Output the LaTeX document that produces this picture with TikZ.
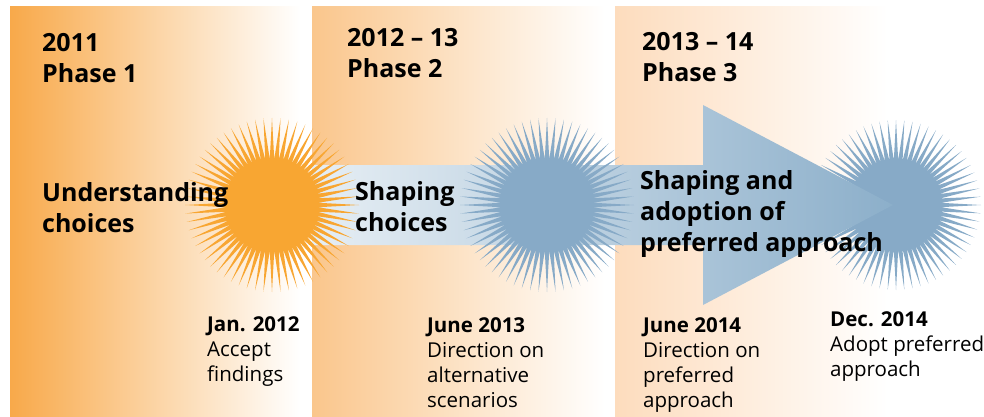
\documentclass[tikz,border=0pt]{standalone}
\usepackage{fontspec}
\setsansfont{Open Sans}
\usetikzlibrary{math}
\usetikzlibrary{shapes.geometric}
\definecolor{phaseA}{HTML}{F8A94A}
\definecolor{phaseB}{HTML}{FAC68C}
\definecolor{phaseC}{HTML}{FDDCBD}
\definecolor{sunOrange}{HTML}{F8A632}
\definecolor{sunBlue}{HTML}{87AAC7}
\definecolor{arrowL}{HTML}{E6EEF4}
\definecolor{arrowR}{HTML}{8CAFCA}
\tikzset{heading/.style={anchor=base west, inner sep=0pt, align=left, font=\sffamily\bfseries\fontsize{25}{31}\selectfont},
	milestone/.style={anchor=base west, inner sep=0pt, align=left, font=\sffamily\fontsize{20.5}{25}\selectfont},
	rays/.style={star, star points=64, star point ratio=1.9, minimum size=174pt, inner sep=0pt, outer sep=0pt, fill=#1},
	core/.style={circle, minimum size=92pt, inner sep=0pt, outer sep=0pt, fill=#1}}

\begin{document}
\begin{tikzpicture}[x=1pt,y=-1pt]
	\tikzmath{\pt=7; \pbt=417;
	\pa=10; \pb=312; \pc=615; \pend=888;
	\sy=205; \sax=272; \sbx=547; \scx=896;
	\ay=165; \by=245; \hx=703; \hat=105; \hab=305; \hatip=893;
	}
	\useasboundingbox (0,0) rectangle (984,417);
	\shade[left color=phaseA, right color=white] (\pa,\pt) rectangle (300,\pbt);
	\shade[left color=phaseB, right color=white] (\pb,\pt) rectangle (605,\pbt);
	\shade[left color=phaseC, right color=white] (\pc,\pt) rectangle (\pend,\pbt);
	\node[rays=sunBlue, minimum size=170pt] (sun3) at (\scx,\sy) {};
	\node[core=sunBlue] (core3) at (\scx,\sy) {};
	\shade[left color=arrowL, right color=arrowR] (\pb,\ay) -- (\hx,\ay) -- (\hx,\hat) -- (\hatip,\sy) -- (\hx,\hab) -- (\hx,\by) -- (\pb,\by) -- cycle;
	\node[rays=sunOrange] (sun1) at (\sax,\sy) {};
	\node[core=sunOrange] (core1) at (\sax,\sy) {};
	\node[rays=sunBlue] (sun2) at (\sbx,\sy) {};
	\node[core=sunBlue] (core2) at (\sbx,\sy) {};
	% base of a node = baseline of its last line
	\node[heading] (year1) at (42,83) {2011\\Phase 1};
	\node[heading] (year2) at (347,78) {2012 – 13\\Phase 2};
	\node[heading] (year3) at (642,82) {2013 – 14\\Phase 3};
	\node[heading] (stage1) at (42,232) {Understanding\\choices};
	\node[heading] (stage2) at (355,231) {Shaping\\choices};
	\node[heading] (stage3) at (640,251) {Shaping and\\adoption of\\preferred approach};
	\node[milestone] (mile1) at (207,381) {\textbf{Jan. 2012}\\Accept\\findings};
	\node[milestone] (mile2) at (427,407) {\textbf{June 2013}\\Direction on\\alternative\\scenarios};
	\node[milestone] (mile3) at (643,407) {\textbf{June 2014}\\Direction on\\preferred\\approach};
	\node[milestone] (mile4) at (830,376) {\textbf{Dec. 2014}\\Adopt preferred\\approach};
\end{tikzpicture}
\end{document}
